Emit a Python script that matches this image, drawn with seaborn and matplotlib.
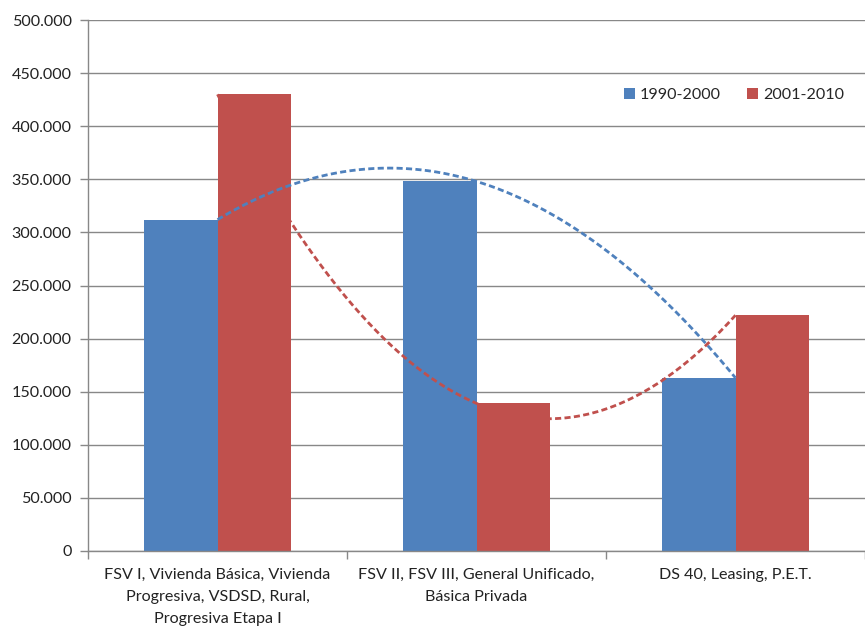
import numpy as np
import pandas as pd
import seaborn as sns
import matplotlib.pyplot as plt
from matplotlib.ticker import FuncFormatter, MultipleLocator, FixedLocator

categories = [
    "FSV I, Vivienda Básica, Vivienda\nProgresiva, VSDSD, Rural,\nProgresiva Etapa I",
    "FSV II, FSV III, General Unificado,\nBásica Privada",
    "DS 40, Leasing, P.E.T.",
]
periods = ["1990-2000", "2001-2010"]
values_1990_2000 = [312000, 348000, 163000]
values_2001_2010 = [430000, 139000, 222000]
colors = ["#4F81BD", "#C0504D"]

df = pd.DataFrame({
    "programa": categories * 2,
    "periodo": [periods[0]] * 3 + [periods[1]] * 3,
    "viviendas": values_1990_2000 + values_2001_2010,
})

sns.set_theme(style="white")
plt.rcParams["font.family"] = ["Lato", "DejaVu Sans"]
fs = 11.6

fig = plt.figure(figsize=(8.65, 6.26), dpi=100)
ax = fig.add_axes([88 / 865, 1 - 551 / 626, 777 / 865, 531 / 626])

sns.barplot(data=df, x="programa", y="viviendas", hue="periodo",
            palette=colors, width=0.57, gap=0, saturation=1,
            edgecolor="none", linewidth=0, ax=ax, zorder=2)

# second-order polynomial trend for each period, drawn over the bars
xs = np.arange(len(categories))
xf = np.linspace(0, len(categories) - 1, 200)
for vals, c in zip([values_1990_2000, values_2001_2010], colors):
    coef = np.polyfit(xs, vals, 2)
    ax.plot(xf, np.polyval(coef, xf), color=c, lw=2.0,
            dashes=(2.2, 1.2), zorder=3)

ax.set_xlim(-0.5, 2.5)
ax.set_ylim(0, 500000)
ax.yaxis.set_major_locator(MultipleLocator(50000))
ax.yaxis.set_major_formatter(
    FuncFormatter(lambda v, p: f"{int(v):,}".replace(",", ".")))
ax.grid(axis="y", color="#888888", lw=1.0, zorder=0)
ax.set_axisbelow(True)
ax.set_xlabel("")
ax.set_ylabel("")

for s in ["top", "right"]:
    ax.spines[s].set_visible(False)
for s in ["left", "bottom"]:
    ax.spines[s].set_color("#888888")
    ax.spines[s].set_linewidth(1.0)

ax.tick_params(axis="y", which="major", left=True, length=5.8, width=1,
               color="#888888", labelsize=fs, labelcolor="#222222", pad=6)
ax.tick_params(axis="x", which="major", bottom=False, labelsize=fs,
               labelcolor="#222222", pad=6)
ax.xaxis.set_minor_locator(FixedLocator([-0.5, 0.5, 1.5, 2.5]))
ax.tick_params(axis="x", which="minor", bottom=True, length=6, width=1,
               color="#888888")
for lab in ax.get_xticklabels():
    lab.set_multialignment("center")
    lab.set_linespacing(1.72)

handles, labels = ax.get_legend_handles_labels()
ax.legend(handles, labels, ncol=2, frameon=False, loc="center left",
          bbox_to_anchor=((624 - 88) / 777, (551 - 95) / 531),
          handlelength=0.7, handleheight=0.7, handletextpad=0.3,
          columnspacing=1.6, fontsize=fs, borderaxespad=0, borderpad=0)

fig.savefig("out.png", dpi=100, facecolor="white")
